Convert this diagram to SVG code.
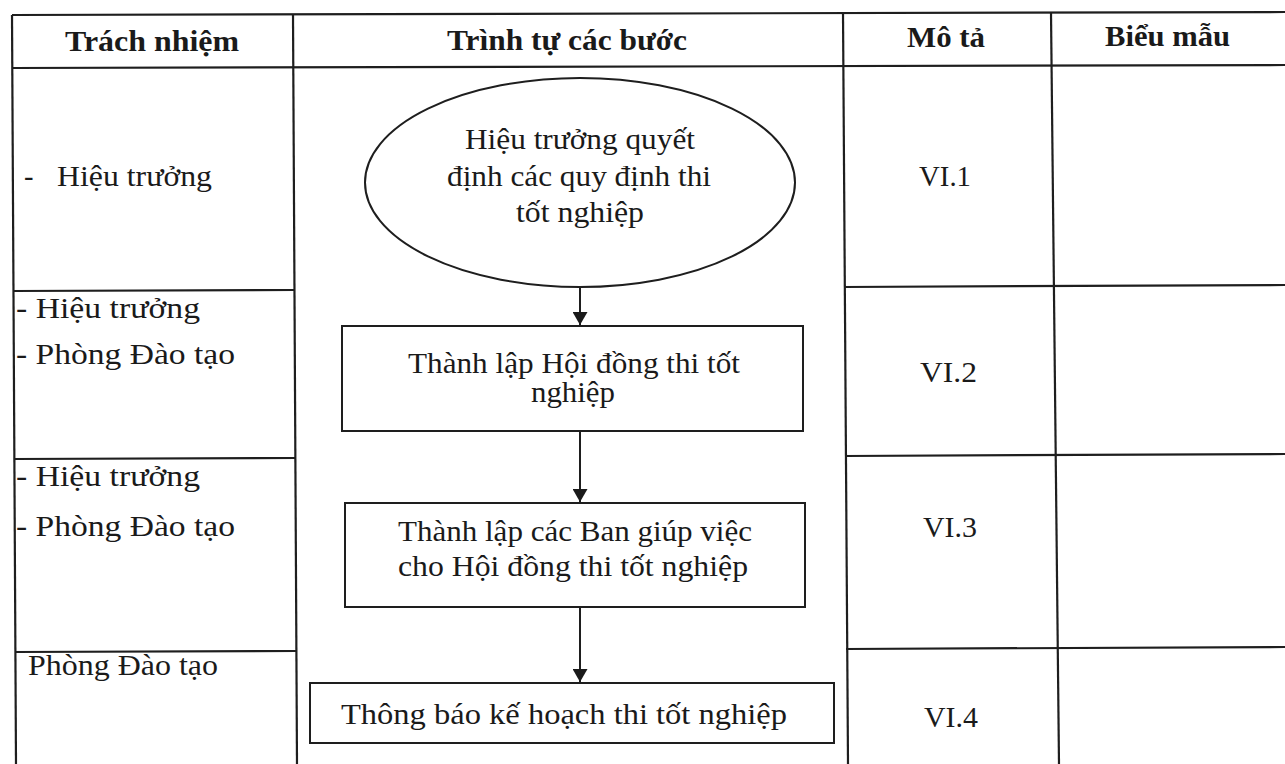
<svg xmlns="http://www.w3.org/2000/svg" width="1285" height="764" viewBox="0 0 1285 764">
<defs>
<marker id="arr" viewBox="0 0 13 15" refX="13" refY="7.5" markerWidth="13" markerHeight="15" markerUnits="userSpaceOnUse" orient="auto">
<path d="M0,0 L13,7.5 L0,15 Z" fill="#1a1a1a"/>
</marker>
<style>
.grid{stroke:#1e1e1e;stroke-width:2.2;fill:none}
.shape{stroke:#1e1e1e;stroke-width:2;fill:#ffffff}
.conn{stroke:#1e1e1e;stroke-width:2;fill:none}
text{font-family:"Liberation Serif","Times New Roman",serif;fill:#1a1a1a;font-size:28.5px}
.hd{font-weight:bold;font-size:29px}
</style>
</defs>
<rect x="0" y="0" width="1285" height="764" fill="#ffffff"/>
<g id="table">
<line class="grid" x1="12" y1="15" x2="1285" y2="12"/>
<line class="grid" x1="12" y1="68" x2="1285" y2="65"/>
<line class="grid" x1="12" y1="15" x2="16" y2="764"/>
<line class="grid" x1="293" y1="15" x2="297" y2="764"/>
<line class="grid" x1="843" y1="13" x2="848" y2="764"/>
<line class="grid" x1="1051" y1="13" x2="1059" y2="764"/>
<line class="grid" x1="13" y1="291" x2="294" y2="290"/>
<line class="grid" x1="844" y1="287" x2="1285" y2="285"/>
<line class="grid" x1="14" y1="459" x2="295" y2="458"/>
<line class="grid" x1="845" y1="456" x2="1285" y2="454"/>
<line class="grid" x1="15" y1="652" x2="296" y2="651"/>
<line class="grid" x1="846" y1="649" x2="1285" y2="647"/>
</g>
<g id="headers">
<text class="hd" x="65" y="51" textLength="174" lengthAdjust="spacingAndGlyphs">Trách nhiệm</text>
<text class="hd" x="447" y="50" textLength="240" lengthAdjust="spacingAndGlyphs">Trình tự các bước</text>
<text class="hd" x="907" y="47" textLength="78" lengthAdjust="spacingAndGlyphs">Mô tả</text>
<text class="hd" x="1105" y="46" textLength="125" lengthAdjust="spacingAndGlyphs">Biểu mẫu</text>
</g>
<g id="responsibility">
<text y="186"><tspan x="24">-</tspan><tspan x="57" textLength="155" lengthAdjust="spacingAndGlyphs">Hiệu trưởng</tspan></text>
<text x="16" y="318" textLength="184" lengthAdjust="spacingAndGlyphs">- Hiệu trưởng</text>
<text x="16" y="364" textLength="219" lengthAdjust="spacingAndGlyphs">- Phòng Đào tạo</text>
<text x="16" y="486" textLength="184" lengthAdjust="spacingAndGlyphs">- Hiệu trưởng</text>
<text x="16" y="536" textLength="219" lengthAdjust="spacingAndGlyphs">- Phòng Đào tạo</text>
<text x="28" y="675" textLength="190" lengthAdjust="spacingAndGlyphs">Phòng Đào tạo</text>
</g>
<g id="codes">
<text x="919" y="186" textLength="52" lengthAdjust="spacingAndGlyphs">VI.1</text>
<text x="920" y="382" textLength="57" lengthAdjust="spacingAndGlyphs">VI.2</text>
<text x="923" y="537" textLength="54" lengthAdjust="spacingAndGlyphs">VI.3</text>
<text x="924" y="727" textLength="54" lengthAdjust="spacingAndGlyphs">VI.4</text>
</g>
<g id="connectors">
<line class="conn" x1="580" y1="287" x2="580" y2="325" marker-end="url(#arr)"/>
<line class="conn" x1="580" y1="431" x2="580" y2="502" marker-end="url(#arr)"/>
<line class="conn" x1="580" y1="607" x2="580" y2="682" marker-end="url(#arr)"/>
</g>
<g id="step1">
<ellipse class="shape" cx="580" cy="182.5" rx="215" ry="104.5"/>
<text x="465" y="149" textLength="230" lengthAdjust="spacingAndGlyphs">Hiệu trưởng quyết</text>
<text x="447" y="186" textLength="264" lengthAdjust="spacingAndGlyphs">định các quy định thi</text>
<text x="516" y="222" textLength="128" lengthAdjust="spacingAndGlyphs">tốt nghiệp</text>
</g>
<g id="step2">
<rect class="shape" x="342" y="326" width="461" height="105"/>
<text x="408" y="373" textLength="332" lengthAdjust="spacingAndGlyphs">Thành lập Hội đồng thi tốt</text>
<text x="531" y="402" textLength="84" lengthAdjust="spacingAndGlyphs">nghiệp</text>
</g>
<g id="step3">
<rect class="shape" x="345" y="503" width="460" height="104"/>
<text x="398" y="541" textLength="354" lengthAdjust="spacingAndGlyphs">Thành lập các Ban giúp việc</text>
<text x="398" y="576" textLength="350" lengthAdjust="spacingAndGlyphs">cho Hội đồng thi tốt nghiệp</text>
</g>
<g id="step4">
<rect class="shape" x="310" y="683" width="524" height="60"/>
<text x="341" y="724" textLength="446" lengthAdjust="spacingAndGlyphs">Thông báo kế hoạch thi tốt nghiệp</text>
</g>
</svg>
